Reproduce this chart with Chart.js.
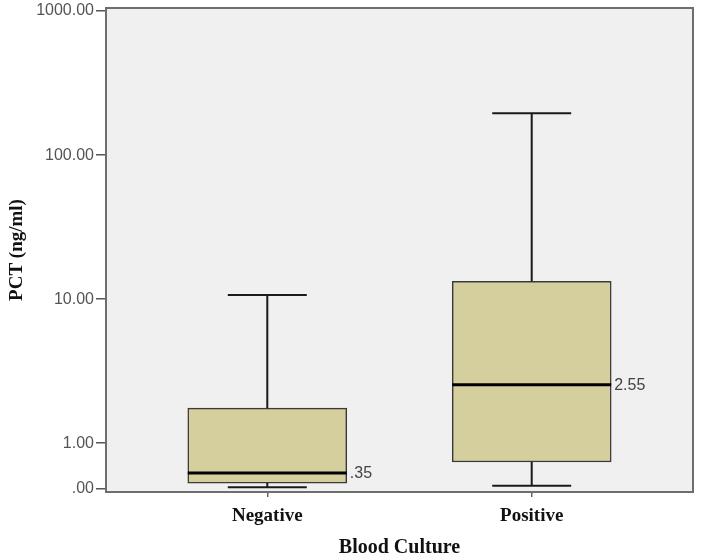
<!DOCTYPE html>
<html>
<head>
<meta charset="utf-8">
<script src="https://cdn.jsdelivr.net/npm/chart.js@4.4.1/dist/chart.umd.min.js"></script>
<style>
  html, body { margin: 0; padding: 0; background: #fff; }
  #wrap { width: 703px; height: 560px; }
</style>
</head>
<body>
<div id="wrap"><canvas id="chart" width="703" height="560"></canvas></div>
<script>
const categories = ['Negative', 'Positive'];
const whiskerLow = [0.04, 0.07];
const q1 = [0.13, 0.59];
const median = [0.35, 2.55];
const q3 = [1.75, 13.3];
const whiskerHigh = [10.7, 195];
const medianLabels = ['.35', '2.55'];
const yTicks = [0, 1, 10, 100, 1000];

// log10 above 1, linear between 0 and 1 (like the SPSS axis)
const K = 0.318;
function tf(v) { return v >= 1 ? Math.log10(v) : (v - 1) * K; }
function itf(t) { return t >= 0 ? Math.pow(10, t) : t / K + 1; }

class SafeLogScale extends Chart.LinearScale {
    buildTicks() {
        return yTicks.map(v => ({ value: v }));
    }
    getPixelForValue(value) {
        const a = tf(this.min), b = tf(this.max);
        return this.getPixelForDecimal((tf(value) - a) / (b - a));
    }
    getValueForPixel(pixel) {
        const a = tf(this.min), b = tf(this.max);
        return itf(a + this.getDecimalForPixel(pixel) * (b - a));
    }
}
SafeLogScale.id = 'safeLog';
SafeLogScale.defaults = {};
Chart.register(SafeLogScale);

const boxData = categories.map((c, i) => ({ x: i + 1, y: [q1[i], q3[i]] }));

const boxPlugin = {
    id: 'boxParts',
    beforeDraw(chart) {
        const { ctx, chartArea: a } = chart;
        ctx.save();
        ctx.fillStyle = '#f0f0f0';
        ctx.fillRect(a.left, a.top, a.right - a.left, a.bottom - a.top);
        ctx.restore();
    },
    afterDatasetsDraw(chart) {
        const { ctx, chartArea: a } = chart;
        const xs = chart.scales.x, ys = chart.scales.y;
        ctx.save();
        categories.forEach((c, i) => {
            const cx = xs.getPixelForValue(i + 1);
            const half = 79.5;
            const cap = 39.5;
            const yLo = ys.getPixelForValue(whiskerLow[i]);
            const yQ1 = ys.getPixelForValue(q1[i]);
            const yQ3 = ys.getPixelForValue(q3[i]);
            const yHi = ys.getPixelForValue(whiskerHigh[i]);
            const yMed = ys.getPixelForValue(median[i]);
            ctx.strokeStyle = '#1a1a1a';
            ctx.lineWidth = 2;
            ctx.beginPath();
            ctx.moveTo(cx, yQ3); ctx.lineTo(cx, yHi);
            ctx.moveTo(cx - cap, yHi); ctx.lineTo(cx + cap, yHi);
            ctx.moveTo(cx, yQ1); ctx.lineTo(cx, yLo);
            ctx.moveTo(cx - cap, yLo); ctx.lineTo(cx + cap, yLo);
            ctx.stroke();
            ctx.strokeStyle = '#000';
            ctx.lineWidth = 3;
            ctx.beginPath();
            ctx.moveTo(cx - half, yMed); ctx.lineTo(cx + half, yMed);
            ctx.stroke();
            ctx.fillStyle = '#444';
            ctx.font = '16px "Liberation Sans", Arial, sans-serif';
            ctx.textAlign = 'left';
            ctx.textBaseline = 'middle';
            ctx.fillText(medianLabels[i], cx + half + 3, yMed + 1);
        });
        ctx.strokeStyle = '#6e6e6e';
        ctx.lineWidth = 2;
        ctx.strokeRect(a.left, a.top, a.right - a.left, a.bottom - a.top);
        ctx.restore();
    }
};

const chart = new Chart(document.getElementById('chart').getContext('2d'), {
    type: 'bar',
    data: {
        datasets: [{
            data: boxData,
            backgroundColor: '#d4cf9c',
            borderColor: '#3a3a3a',
            borderWidth: 1.5,
            borderSkipped: false,
            barThickness: 159
        }]
    },
    options: {
        responsive: false,
        animation: false,
        layout: { padding: { top: 8, right: 10, left: 0, bottom: 0 } },
        plugins: { legend: { display: false }, tooltip: { enabled: false } },
        scales: {
            x: {
                type: 'linear',
                min: 0.39,
                max: 2.61,
                offset: false,
                afterBuildTicks: s => { s.ticks = [{ value: 1 }, { value: 2 }]; },
                afterFit: s => { s.height = 68; },
                grid: { offset: false, drawOnChartArea: false, drawTicks: true, tickLength: 5, color: '#666', lineWidth: 1.5 },
                border: { display: false },
                ticks: {
                    autoSkip: false,
                    maxRotation: 0,
                    padding: 8,
                    color: '#111',
                    font: { family: '"Liberation Serif", "Times New Roman", serif', size: 19, weight: 'bold' },
                    callback: v => categories[v - 1] || ''
                },
                title: {
                    display: true,
                    text: 'Blood Culture',
                    color: '#111',
                    padding: { top: 4, bottom: 0 },
                    font: { family: '"Liberation Serif", "Times New Roman", serif', size: 20, weight: 'bold' }
                }
            },
            y: {
                type: 'safeLog',
                min: -0.065,
                max: 1050,
                afterFit: s => { s.width = 106; s.paddingTop = 0; s.paddingBottom = 0; },
                grid: { drawOnChartArea: false, drawTicks: true, tickLength: 10, color: '#555', lineWidth: 1.5 },
                border: { display: false },
                ticks: {
                    autoSkip: false,
                    padding: 2,
                    color: '#555',
                    font: { family: '"Liberation Sans", Arial, sans-serif', size: 16, lineHeight: 1 },
                    callback: v => v === 0 ? '.00' : v.toFixed(2)
                },
                title: {
                    display: true,
                    text: 'PCT (ng/ml)',
                    color: '#111',
                    padding: { top: 6, bottom: 0 },
                    font: { family: '"Liberation Serif", "Times New Roman", serif', size: 19, weight: 'bold' }
                }
            }
        }
    },
    plugins: [boxPlugin]
});
</script>
</body>
</html>
